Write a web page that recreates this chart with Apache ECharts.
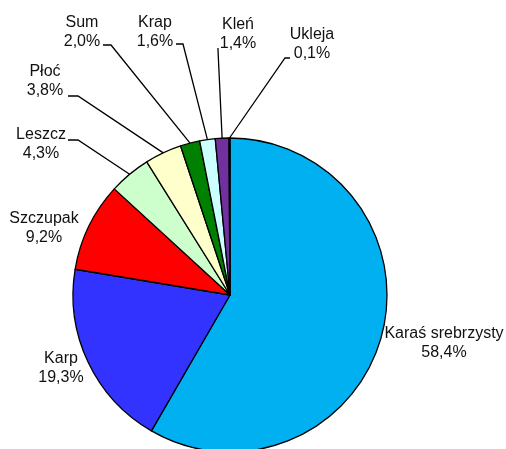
<!DOCTYPE html>
<html>
<head>
<meta charset="utf-8">
<script src="https://cdn.jsdelivr.net/npm/echarts@6/dist/echarts.min.js"></script>
<style>
  html, body { margin: 0; padding: 0; background: #fff; }
  #chart { width: 506px; height: 449px; }
</style>
</head>
<body>
<div id="chart"></div>
<script>
// gatunki ryb i ich udział (%)
const species = ['Karaś srebrzysty', 'Karp', 'Szczupak', 'Leszcz', 'Płoć', 'Sum', 'Krap', 'Kleń', 'Ukleja'];
const shares = [58.4, 19.3, 9.2, 4.3, 3.8, 2.0, 1.6, 1.4, 0.1];

const colorList = ['#00B0F0', '#3333FF', '#FF0000', '#CCFFCC', '#FFFFCC', '#008000', '#CCFFFF', '#7030A0', '#FFC000'];

// where each label sits (centre of the text block) and its leader line: [end, bend] or null
const labelPlace = [
  { x: 444, y: 343, line: null },
  { x: 61, y: 368, line: null },
  { x: 44, y: 228, line: null },
  { x: 41, y: 144, line: [[68, 140], [78, 140]] },
  { x: 45, y: 81, line: [[68, 96], [78, 96]] },
  { x: 82, y: 32, line: [[103, 45], [111, 45]] },
  { x: 155, y: 32, line: [[176, 44], [183, 44]] },
  { x: 238, y: 34, line: [[218, 48], [218, 50]] },
  { x: 312, y: 44, line: [[290, 58], [285, 58]] }
];

const chart = echarts.init(document.getElementById('chart'));

let option = {
  animation: false,
  backgroundColor: '#fff',
  textStyle: { fontFamily: 'Liberation Sans, Arial, sans-serif' },
  series: [
    {
      type: 'pie',
      center: [230, 295],
      radius: 157,
      startAngle: 90,
      clockwise: true,
      avoidLabelOverlap: false,
      silent: true,
      itemStyle: {
        borderColor: '#000',
        borderWidth: 1.3
      },
      label: {
        show: true,
        color: '#111',
        fontSize: 16,
        lineHeight: 19,
        formatter: (p) => p.name + '\n' + p.value.toFixed(1).replace('.', ',') + '%'
      },
      labelLine: {
        show: true,
        lineStyle: { color: '#000', width: 1.3 }
      },
      labelLayout: (params) => {
        const pos = labelPlace[params.dataIndex];
        let res = { x: pos.x, y: pos.y, align: 'center', verticalAlign: 'middle', hideOverlap: false };
        if (pos.line && params.labelLinePoints) {
          const p0 = params.labelLinePoints[0];
          res.labelLinePoints = [p0, pos.line[1], pos.line[0]];
        }
        return res;
      },
      emphasis: { disabled: true },
      data: species.map((name, i) => ({
        name: name,
        value: shares[i],
        itemStyle: { color: colorList[i] },
        labelLine: { show: labelPlace[i].line !== null }
      }))
    }
  ]
};

chart.setOption(option);
</script>
</body>
</html>
